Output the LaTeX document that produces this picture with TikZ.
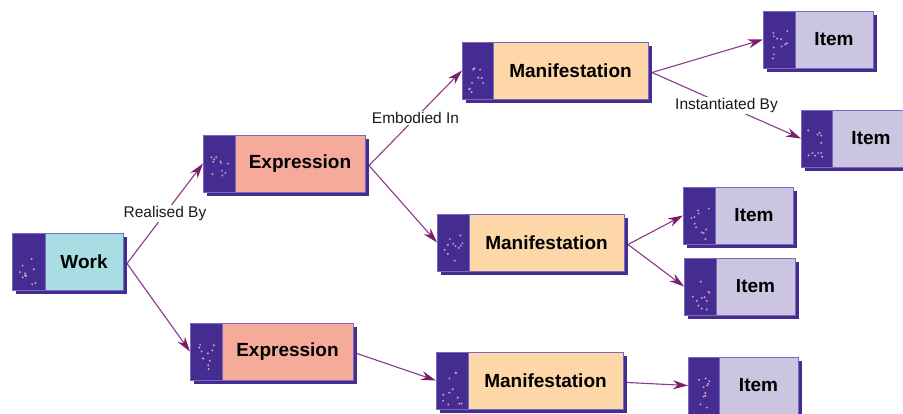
\documentclass[tikz,border=0pt]{standalone}
\usepackage{fontspec}
\setmainfont{Liberation Sans}
\usetikzlibrary{arrows.meta}
\definecolor{dk}{HTML}{452C91}
\definecolor{bord}{HTML}{7A68C0}
\definecolor{workc}{HTML}{A8DDE3}
\definecolor{expc}{HTML}{F5AA9A}
\definecolor{manc}{HTML}{FED7A8}
\definecolor{itemc}{HTML}{CBC5E2}
\definecolor{ln}{HTML}{8B3A8B}
\definecolor{ah}{HTML}{7B1D6C}
\definecolor{spk}{HTML}{D99AC0}
\definecolor{txt}{HTML}{1A1A1A}
\tikzset{
  outerbox/.style={draw=bord, line width=0.8pt, fill=dk, anchor=north west,
    minimum height=57pt, inner sep=0pt, outer sep=0pt},
  innerbox/.style={draw=bord, line width=0.6pt, anchor=north west,
    minimum height=57pt, inner sep=0pt, outer sep=0pt,
    font=\fontsize{19}{21}\selectfont\bfseries},
  conn/.style={draw=ln, line width=1.1pt},
  arr/.style={conn, -{Stealth[length=15pt,width=9pt,fill=ah,color=ah]}},
  lbl/.style={fill=white, inner sep=1.5pt, text=txt,
    font=\fontsize{15.5}{17}\selectfont}
}
% name, x, y (top-left), dark width, light width, colour, text
\newcommand\entitybox[7]{%
  \fill[dk] (#2+4,#3+4) rectangle ++(#4+#5,57);
  \node[outerbox, minimum width={#4pt+#5pt}] (#1) at (#2,#3) {};
  \node[innerbox, fill=#6, minimum width=#5pt] (#1-t) at ([xshift=#4pt]#1.north west) {#7};
  \foreach \k in {1,...,11}{
    \pgfmathsetmacro\rx{#2+7+rnd*(#4-13)}
    \pgfmathsetmacro\ry{#3+20+rnd*33}
    \fill[spk] (\rx,\ry) circle[radius=1.1pt];
  }
}
\begin{document}
\begin{tikzpicture}[x=1pt,y=-1pt]
\clip (0,0) rectangle (903,413);
\fill[white] (0,0) rectangle (903,413);
\pgfmathsetseed{11}
\entitybox{w}{12}{233}{33}{78}{workc}{Work}
\entitybox{e1}{203}{135}{32}{130}{expc}{Expression}
\entitybox{e2}{190}{323}{32}{131}{expc}{Expression}
\entitybox{m1}{462}{42}{31}{155}{manc}{Manifestation}
\entitybox{m2}{437}{214}{32}{155}{manc}{Manifestation}
\entitybox{m3}{436}{352}{32}{155}{manc}{Manifestation}
\entitybox{i1}{763}{11}{32}{78}{itemc}{Item}
\entitybox{i2}{801}{110}{31}{78}{itemc}{Item}
\entitybox{i3}{683}{187}{32}{78}{itemc}{Item}
\entitybox{i4}{684}{258}{32}{79}{itemc}{Item}
\entitybox{i5}{688}{357}{31}{79}{itemc}{Item}

\draw[arr] ([shift={(4,2)}]w.east) -- node[lbl]{Realised By} (e1.west);
\draw[arr] ([shift={(4,2)}]w.east) -- (e2.west);
\draw[arr] ([shift={(4,2)}]e1.east) -- node[lbl]{Embodied In} (m1.west);
\draw[arr] ([shift={(4,2)}]e1.east) -- (m2.west);
\draw[arr] ([shift={(4,2)}]e2.east) -- (m3.west);
\draw[arr] ([shift={(4,2)}]m1.east) -- (i1.west);
\draw[arr] ([shift={(4,2)}]m1.east) -- node[lbl]{Instantiated By} (i2.west);
\draw[arr] ([shift={(4,2)}]m2.east) -- (i3.west);
\draw[arr] ([shift={(4,2)}]m2.east) -- (i4.west);
\draw[arr] ([shift={(4,2)}]m3.east) -- (i5.west);
\end{tikzpicture}
\end{document}
